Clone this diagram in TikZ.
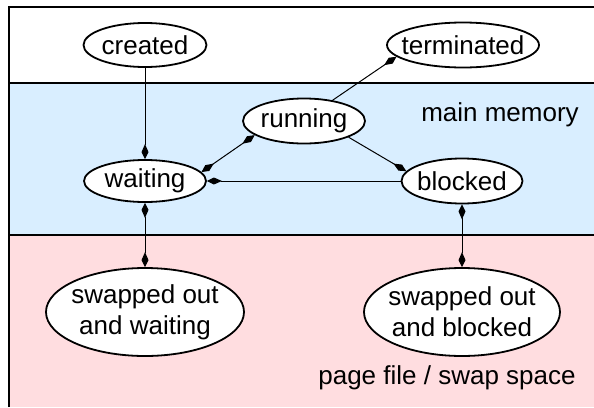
\documentclass[tikz,border=0pt]{standalone}
\usepackage{fontspec}
\setmainfont{Liberation Sans}
\usetikzlibrary{arrows.meta,shapes.geometric}
\definecolor{memblue}{RGB}{217,238,255}
\definecolor{swappink}{RGB}{255,221,224}
\begin{document}
\begin{tikzpicture}[x=1pt,y=-1pt,
  font=\fontsize{26}{31}\selectfont,
  st/.style={draw, line width=1.8pt, ellipse, fill=white, inner sep=0pt},
  kt/.style={Kite[length=15pt,width=7pt,inset=8pt]},
  conn/.style={line width=1pt, -{Kite[length=15pt,width=7pt,inset=8pt]}},
  bconn/.style={line width=1pt, {Kite[length=15pt,width=7pt,inset=8pt]}-{Kite[length=15pt,width=7pt,inset=8pt]}},
  framel/.style={line width=2pt}]
\useasboundingbox (0,0) rectangle (594,407);
\fill[memblue] (9,83) rectangle (594,235);
\fill[swappink] (9,235) rectangle (594,407);
\draw[framel] (9,407) -- (9,7) -- (594,7);
\draw[framel] (9,83) -- (594,83);
\draw[framel] (9,235) -- (594,235);

\node[st, minimum width=123pt, minimum height=44pt, label=center:created] (cre) at (145,45) {};
\node[st, minimum width=152pt, minimum height=45pt, label=center:terminated] (term) at (463,45) {};
\node[st, minimum width=122pt, minimum height=45pt, label=center:running] (run) at (304,121) {};
\node[st, minimum width=122pt, minimum height=42pt, label=center:waiting] (wait) at (145,181) {};
\node[st, minimum width=121pt, minimum height=45pt, label=center:blocked] (blk) at (462,181) {};
\node[st, minimum width=198pt, minimum height=88pt, label={[align=center]center:swapped out\\and waiting}] (sw1) at (145,312) {};
\node[st, minimum width=196pt, minimum height=88pt, label={[align=center]center:swapped out\\and blocked}] (sw2) at (462,312) {};

\node (mm) at (500,115) {main memory};
\node (pf) at (447,378) {page file / swap space};

\draw[conn] (cre) -- (wait);
\draw[conn] (run.36) -- (term.190);
\draw[conn] (run.-20) -- (blk.170);
\draw[conn] (blk) -- (wait);
\draw[bconn] (run.196) -- (wait.9);
\draw[bconn] (wait) -- (sw1);
\draw[bconn] (blk) -- (sw2);
\end{tikzpicture}
\end{document}
